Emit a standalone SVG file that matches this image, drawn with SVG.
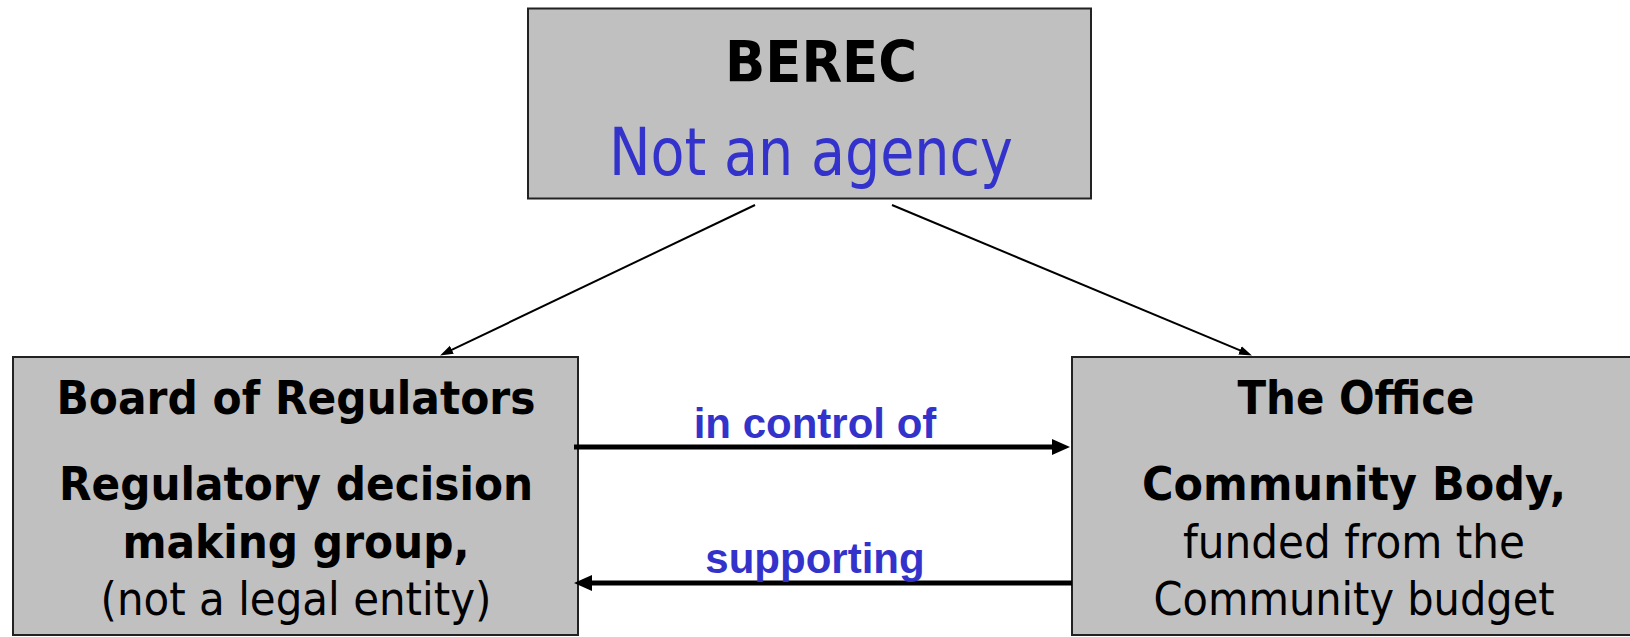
<svg xmlns="http://www.w3.org/2000/svg" width="1630" height="637" viewBox="0 0 1630 637">
<style>
.box{fill:#c0c0c0;stroke:#222;stroke-width:2}
.t{font-family:"DejaVu Sans","Noto Sans",sans-serif;text-anchor:middle;fill:#000;font-size:46px}
.b{font-weight:bold}
.blue{fill:#3333cc}
.big{font-size:57px}
.huge{font-size:65px}
.lbl{font-family:"Liberation Sans",Arial,sans-serif;font-weight:bold;font-size:42px;fill:#3333cc;text-anchor:middle}
.thin{stroke:#000;stroke-width:2;fill:none}
.thick{stroke:#000;stroke-width:5;fill:none}
</style>
<defs>
<marker id="ah" markerUnits="userSpaceOnUse" markerWidth="13" markerHeight="10" refX="6" refY="5" orient="auto">
<path d="M0,0.5 L13,5 L0,9.5 z" fill="#000"/>
</marker>
<marker id="ahb" markerUnits="userSpaceOnUse" markerWidth="18" markerHeight="18" refX="8" refY="9" orient="auto">
<path d="M0,1 L18,9 L0,17 z" fill="#000"/>
</marker>
</defs>
<g id="berec">
<rect class="box" x="528" y="8.5" width="563" height="190"/>
<text class="t b big" x="821" y="82" textLength="192" lengthAdjust="spacingAndGlyphs">BEREC</text>
<text class="t blue huge" x="811" y="175" textLength="404" lengthAdjust="spacingAndGlyphs">Not an agency</text>
</g>
<g id="board">
<rect class="box" x="13" y="357" width="565" height="278"/>
<text class="t b" x="296" y="414" textLength="479" lengthAdjust="spacingAndGlyphs">Board of Regulators</text>
<text class="t b" x="296" y="500" textLength="474" lengthAdjust="spacingAndGlyphs">Regulatory decision</text>
<text class="t b" x="296" y="558" textLength="347" lengthAdjust="spacingAndGlyphs">making group,</text>
<text class="t" x="296" y="615" textLength="391" lengthAdjust="spacingAndGlyphs">(not a legal entity)</text>
</g>
<g id="office">
<rect class="box" x="1072" y="357" width="570" height="278"/>
<text class="t b" x="1356" y="414" textLength="237" lengthAdjust="spacingAndGlyphs">The Office</text>
<text class="t b" x="1354" y="500" textLength="424" lengthAdjust="spacingAndGlyphs">Community Body,</text>
<text class="t" x="1354" y="558" textLength="342" lengthAdjust="spacingAndGlyphs">funded from the</text>
<text class="t" x="1354" y="615" textLength="401" lengthAdjust="spacingAndGlyphs">Community budget</text>
</g>
<g id="connectors">
<line class="thin" x1="755" y1="205" x2="446.4" y2="352.4" marker-end="url(#ah)"/>
<line class="thin" x1="892" y1="205" x2="1245.5" y2="352.7" marker-end="url(#ah)"/>
<line class="thick" x1="574" y1="447" x2="1060" y2="447" marker-end="url(#ahb)"/>
<line class="thick" x1="1072" y1="583" x2="584" y2="583" marker-end="url(#ahb)"/>
<text class="lbl" x="815" y="438">in control of</text>
<text class="lbl" x="815" y="573">supporting</text>
</g>
</svg>
